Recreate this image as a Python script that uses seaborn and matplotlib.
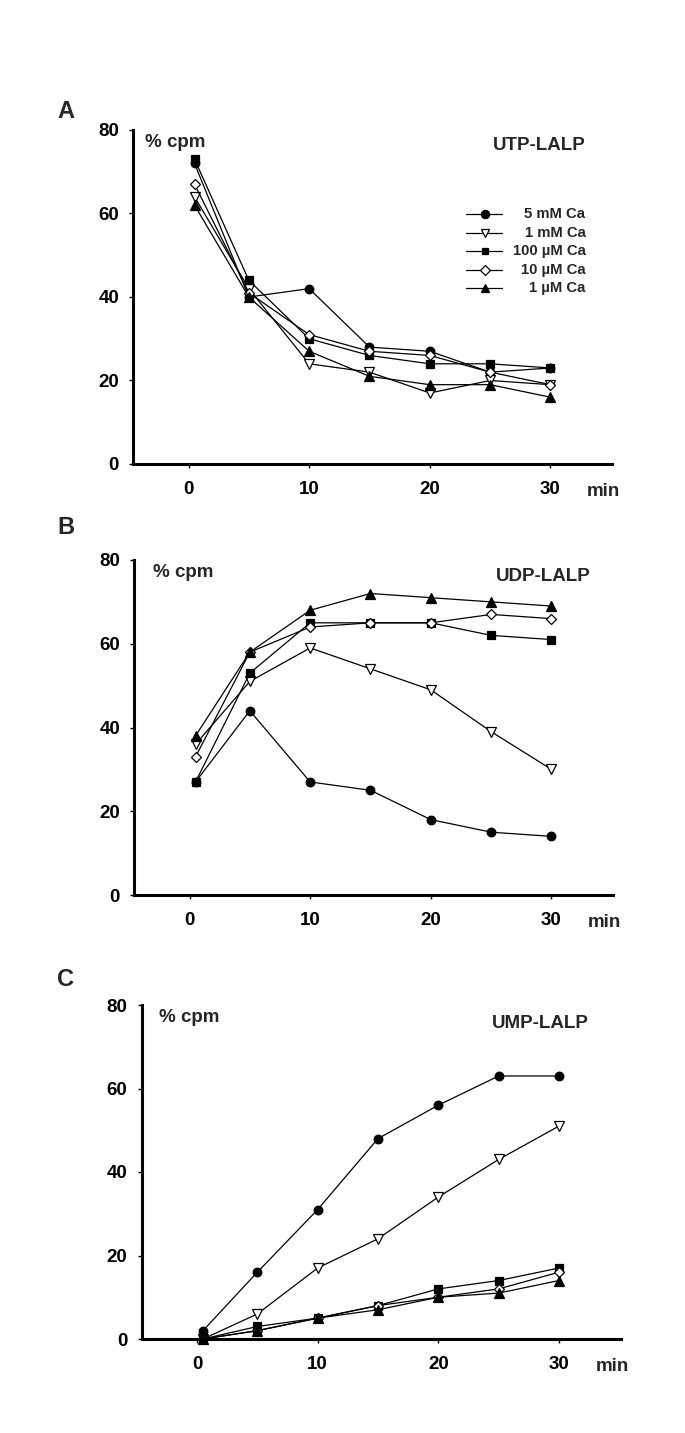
import matplotlib
matplotlib.use("Agg")
import matplotlib.pyplot as plt
import seaborn as sns
import pandas as pd

# time points (min)
times = [0.5, 5, 10, 15, 20, 25, 30]
conditions = ["5 mM Ca", "1 mM Ca", "100 µM Ca", "10 µM Ca", "1 µM Ca"]

# A: UTP-LALP
utp_5mM = [72, 40, 42, 28, 27, 22, 23]
utp_1mM = [64, 42, 24, 22, 17, 20, 19]
utp_100uM = [73, 44, 30, 26, 24, 24, 23]
utp_10uM = [67, 41, 31, 27, 26, 22, 19]
utp_1uM = [62, 40, 27, 21, 19, 19, 16]

# B: UDP-LALP
udp_5mM = [27, 44, 27, 25, 18, 15, 14]
udp_1mM = [36, 51, 59, 54, 49, 39, 30]
udp_100uM = [27, 53, 65, 65, 65, 62, 61]
udp_10uM = [33, 58, 64, 65, 65, 67, 66]
udp_1uM = [38, 58, 68, 72, 71, 70, 69]

# C: UMP-LALP
ump_5mM = [2, 16, 31, 48, 56, 63, 63]
ump_1mM = [0, 6, 17, 24, 34, 43, 51]
ump_100uM = [0, 3, 5, 8, 12, 14, 17]
ump_10uM = [0, 2, 5, 8, 10, 12, 16]
ump_1uM = [0, 2, 5, 7, 10, 11, 14]

yticks = [0, 20, 40, 60, 80]
xticks = [0, 10, 20, 30]

# marker style per condition: (marker, facecolor)
styles = {
    "5 mM Ca": ("o", "black"),
    "1 mM Ca": ("v", "white"),
    "100 µM Ca": ("s", "black"),
    "10 µM Ca": ("D", "white"),
    "1 µM Ca": ("^", "black"),
}
msizes = {"o": 6.2, "v": 6.5, "s": 5.3, "D": 5.3, "^": 6.5}

W, H = 685, 1433


def make_df(series):
    rows = []
    for cond, vals in zip(conditions, series):
        for t, v in zip(times, vals):
            rows.append({"time": t, "cpm": v, "cond": cond})
    return pd.DataFrame(rows)


# letter, title, data, axes rect (px: left, top, bottom), %cpm x, title x (axes frac), title y
panels = [
    ("A", "UTP-LALP", make_df([utp_5mM, utp_1mM, utp_100uM, utp_10uM, utp_1uM]),
     (133, 130, 464), 0.025, 0.944, 0.955, 111),
    ("B", "UDP-LALP", make_df([udp_5mM, udp_1mM, udp_100uM, udp_10uM, udp_1uM]),
     (134, 560, 895), 0.040, 0.954, 0.952, 528),
    ("C", "UMP-LALP", make_df([ump_5mM, ump_1mM, ump_100uM, ump_10uM, ump_1uM]),
     (141.5, 1005, 1339), 0.036, 0.934, 0.946, 980),
]

sns.set_style("white")
plt.rcParams["font.family"] = ["Liberation Sans", "DejaVu Sans"]
plt.rcParams["font.weight"] = "bold"

fig = plt.figure(figsize=(6.85, 14.33), dpi=100)

for letter, title, df, (lpx, tpx, bpx), cpm_x, tit_x, tit_y, let_y in panels:
    ax = fig.add_axes([lpx / W, 1 - bpx / H, 479 / W, (bpx - tpx) / H])
    for cond in conditions:
        mk, fc = styles[cond]
        sub = df[df["cond"] == cond]
        sns.lineplot(data=sub, x="time", y="cpm", ax=ax, color="black",
                     linewidth=0.9, marker=mk, markersize=msizes[mk],
                     markerfacecolor=fc, markeredgecolor="black",
                     markeredgewidth=0.9, legend=False)
    ax.set_xlim(-4.6, 35.1)
    ax.set_ylim(0, 80)
    ax.set_xticks(xticks)
    ax.set_yticks(yticks)
    ax.set_xlabel("")
    ax.set_ylabel("")
    for side in ["top", "right"]:
        ax.spines[side].set_visible(False)
    for side in ["left", "bottom"]:
        ax.spines[side].set_linewidth(2.2)
        ax.spines[side].set_color("black")
    ax.tick_params(axis="x", direction="out", length=3, width=1, pad=9,
                   labelsize=13.5, colors="black", bottom=True)
    ax.tick_params(axis="y", direction="out", length=3, width=1, pad=7,
                   labelsize=13.5, colors="black", left=True)
    for lab in ax.get_xticklabels() + ax.get_yticklabels():
        lab.set_fontweight("bold")
    for ln in ax.lines:
        ln.set_clip_on(False)

    ax.text(cpm_x, 0.964, "% cpm", transform=ax.transAxes, fontsize=13.5,
            fontweight="bold", va="center", ha="left")
    ax.text(tit_x, tit_y, title, transform=ax.transAxes, fontsize=13.5,
            fontweight="bold", va="center", ha="right")
    ax.annotate("min", xy=(34.4, 0), xycoords=("data", "axes fraction"),
                xytext=(0, -13.5), textcoords="offset points", fontsize=13.5,
                fontweight="bold", ha="center", va="top")
    fig.text(66 / W, 1 - let_y / H, letter, fontsize=17,
             fontweight="bold", ha="center", va="center")

    if letter == "A":
        leg_y = [59.9, 55.4, 51.0, 46.4, 42.1]
        for cond, ly in zip(conditions, leg_y):
            mk, fc = styles[cond]
            ax.plot([23.0, 26.0], [ly, ly], color="black", linewidth=0.9)
            ax.plot([24.6], [ly], marker=mk, markersize=msizes[mk] - 0.3,
                    markerfacecolor=fc, markeredgecolor="black",
                    markeredgewidth=0.9, linestyle="none")
            ax.text(32.9, ly, cond, fontsize=10.7, fontweight="bold",
                    ha="right", va="center")

fig.savefig("out.png", dpi=100)
